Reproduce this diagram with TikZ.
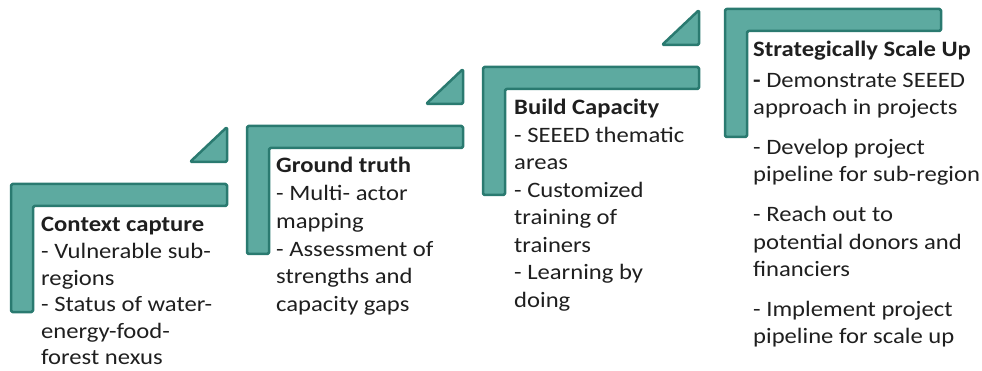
\documentclass[tikz,border=0pt]{standalone}
\usepackage{fontspec}
\setmainfont[FakeStretch=1.12]{Carlito}
\definecolor{stairfill}{RGB}{93,170,160}
\definecolor{stairline}{RGB}{42,122,112}
\tikzset{
  stair/.style={fill=stairfill, draw=stairline, line width=2.5pt, rounded corners=1.5pt, line join=round},
  steptext/.style={anchor=base west, inner sep=0pt, text=black!88}
}
\newcommand{\stepitems}[2][27.3]{\parbox[t]{260pt}{\raggedright\fontsize{22}{#1}\selectfont #2}}
\begin{document}
\begin{tikzpicture}[x=1pt, y=-1pt]
  \useasboundingbox (0,0) rectangle (982,371);
  % the four stairs
  \foreach \sx/\sy in {10/183, 246/125, 482/66, 724/8}
    \draw[stair] (\sx+1,\sy+1) -- ++(216,0) -- ++(0,22) -- ++(-194,0) -- ++(0,106) -- ++(-22,0) -- cycle;
  % small wedges above the first three
  \foreach \sx/\sy in {10/183, 246/125, 482/66}
    \draw[stair] (\sx+217,\sy-21) -- ++(-37,0) -- (\sx+217,\sy-56) -- cycle;

  \node[steptext] (capture) at (41,232) {\stepitems[26.6]{\textbf{Context capture}\\- Vulnerable sub-\\regions\\- Status of water-\\energy-food-\\forest nexus}};
  \node[steptext] (truth) at (276,173) {\stepitems[27.7]{\textbf{Ground truth}\\- Multi- actor\\mapping\\- Assessment of\\strengths and\\capacity gaps}};
  \node[steptext] (capacity) at (514,115) {\stepitems[27.5]{\textbf{Build Capacity}\\- SEEED thematic\\areas\\- Customized\\training of\\trainers\\- Learning by\\doing}};
  \node[steptext] (scaleup) at (753,57) {\stepitems[27.2]{\textbf{Strategically Scale Up}\\[3pt]\textbf{-} Demonstrate SEEED\\approach in projects\\[13pt]- Develop project\\pipeline for sub-region\\[13pt]- Reach out to\\potential donors and\\financiers\\[13pt]- Implement project\\pipeline for scale up}};
\end{tikzpicture}
\end{document}
